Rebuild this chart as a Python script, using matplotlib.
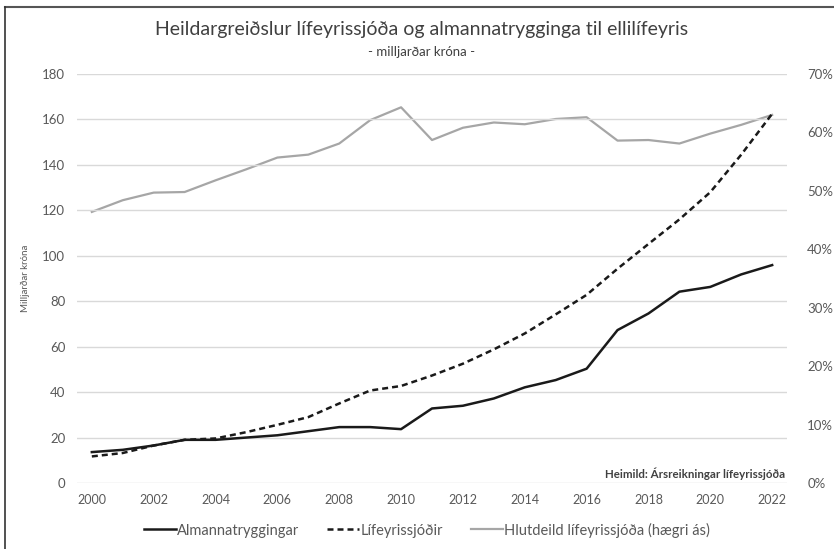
import matplotlib
matplotlib.use("Agg")
import matplotlib.pyplot as plt
from matplotlib.lines import Line2D
from matplotlib.ticker import PercentFormatter

plt.rcParams['font.family'] = ['Lato', 'DejaVu Sans']

# data
years = list(range(2000, 2023))
almannatryggingar = [13.6, 14.6, 16.5, 19.0, 19.0, 20.0, 21.0, 22.8, 24.6, 24.6, 23.7, 32.8,
                     34.0, 37.2, 42.1, 45.3, 50.3, 67.3, 74.6, 84.2, 86.3, 91.8, 95.9]
lifeyrissjodir = [11.7, 13.2, 16.5, 19.0, 19.6, 22.4, 25.6, 29.0, 35.0, 40.7, 42.7, 47.3,
                  52.5, 58.8, 65.8, 74.2, 82.8, 94.3, 105.2, 116.0, 128.0, 144.5, 162.5]
hlutdeild = [46.4, 48.4, 49.7, 49.8, 51.8, 53.7, 55.7, 56.2, 58.1, 62.1, 64.3, 58.7,
             60.8, 61.7, 61.4, 62.3, 62.6, 58.6, 58.7, 58.1, 59.8, 61.3, 63.0]

left_ticks = list(range(0, 181, 20))
right_ticks = [0, 10, 20, 30, 40, 50, 60, 70]
x_ticks = list(range(2000, 2023, 2))

labels = ["Almannatryggingar", "Lífeyrissjóðir", "Hlutdeild lífeyrissjóða (hægri ás)"]

txt = "#595959"
dash = (2.4, 1.6)

fig = plt.figure(figsize=(8.34, 5.49), dpi=100)
ax = fig.add_axes([77 / 834, 1 - 483 / 549, 710 / 834, 409 / 549])
ax2 = ax.twinx()

ax.set_zorder(ax2.get_zorder() + 1)
ax.patch.set_visible(False)

ax.plot(years, almannatryggingar, color="#1a1a1a", lw=1.8)
ax.plot(years, lifeyrissjodir, color="#1a1a1a", lw=1.8, dashes=dash)
ax2.plot(years, hlutdeild, color="#a6a6a6", lw=1.6)

ax.set_xlim(1999.52, 2022.48)
ax.set_ylim(0, 180)
ax2.set_ylim(0, 70)
ax.set_yticks(left_ticks)
ax2.set_yticks(right_ticks)
ax2.yaxis.set_major_formatter(PercentFormatter(decimals=0))
ax.set_xticks(x_ticks)

ax.grid(axis="y", color="#d9d9d9", lw=1)
ax.set_axisbelow(True)
for a in (ax, ax2):
    for s in a.spines.values():
        s.set_visible(False)
ax.tick_params(axis="y", length=0, pad=8.5, labelsize=9.5, labelcolor=txt)
ax.tick_params(axis="x", length=0, pad=8, labelsize=9, labelcolor=txt)
ax2.tick_params(axis="y", length=0, pad=14.5, labelsize=9.5, labelcolor=txt)

ax.set_ylabel("Milljarðar króna", fontsize=7, color=txt, labelpad=9)

fig.text(0.505, 1 - 30 / 549, "Heildargreiðslur lífeyrissjóða og almannatrygginga til ellilífeyris",
         ha="center", va="center", fontsize=14, color="#404040")
fig.text(0.505, 1 - 52 / 549, "- milljarðar króna -", ha="center", va="center",
         fontsize=9.5, color="#404040")
fig.text(785 / 834, 1 - 474 / 549, "Heimild: Ársreikningar lífeyrissjóða", ha="right",
         va="center", fontsize=8.3, fontweight="bold", color="#404040")

handles = [Line2D([], [], color="#1a1a1a", lw=1.8),
           Line2D([], [], color="#1a1a1a", lw=1.8, dashes=dash),
           Line2D([], [], color="#a6a6a6", lw=1.6)]
fig.legend(handles, labels, loc="center", bbox_to_anchor=(0.512, 1 - 530 / 549), ncol=3,
           frameon=False, fontsize=10.5, handlelength=2.2, handletextpad=0.1,
           columnspacing=1.9, labelcolor=txt)

# frame of the cropped screenshot
fig.add_artist(Line2D([5 / 834, 1], [1 - 7 / 549, 1 - 7 / 549], color="#555555", lw=1.5))
fig.add_artist(Line2D([5 / 834, 5 / 834], [0, 1 - 7 / 549], color="#333333", lw=1.2))

fig.savefig("out.png", dpi=100)
